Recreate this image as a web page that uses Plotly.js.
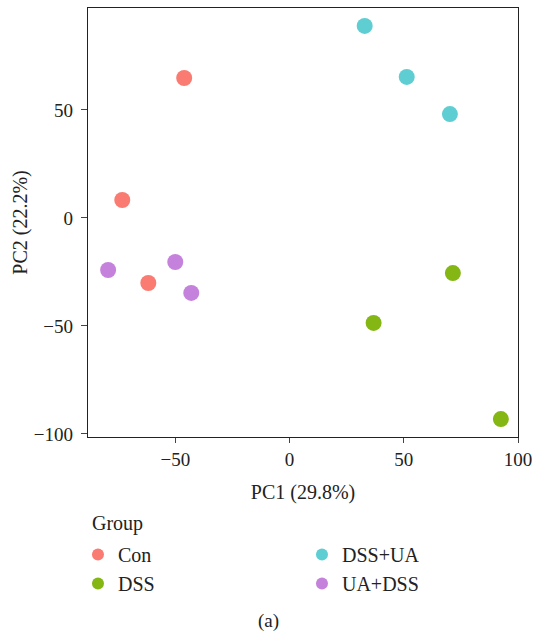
<!DOCTYPE html>
<html>
<head>
<meta charset="utf-8">
<script src="https://cdn.plot.ly/plotly-3.0.1.min.js"></script>
<style>html,body{margin:0;padding:0;background:#fff;}#chart{width:535px;height:637px;}</style>
</head>
<body>
<div id="chart"></div>
<script>
const groups = ["Con", "DSS+UA", "DSS", "UA+DSS"];
const colors = ["#F97B71", "#5FCED3", "#84B614", "#C582DC"];
const pc1 = {
  "Con": [-46.1, -73.2, -61.8],
  "DSS+UA": [32.9, 51.3, 70.2],
  "DSS": [71.5, 36.8, 92.5],
  "UA+DSS": [-79.4, -50.0, -43.0]
};
const pc2 = {
  "Con": [64.8, 8.3, -30.1],
  "DSS+UA": [88.9, 65.3, 48.1],
  "DSS": [-25.5, -48.6, -93.1],
  "UA+DSS": [-24.1, -20.4, -34.7]
};
const xTicks = [-50, 0, 50, 100];
const yTicks = [-100, -50, 0, 50];
const xTitle = "PC1 (29.8%)";
const yTitle = "PC2 (22.2%)";
const legendTitle = "Group";
const caption = "(a)";

const font = "Liberation Serif, Times New Roman, serif";
const ink = "#222";
const traces = groups.map((g, i) => ({
  type: "scatter", mode: "markers", name: g,
  x: pc1[g], y: pc2[g],
  marker: {color: colors[i], size: 16, line: {width: 0}}
}));

const minus = v => v < 0 ? "\u2212" + Math.abs(v) : String(v);

const layout = {
  width: 535, height: 637,
  margin: {l: 88, r: 17, t: 8, b: 200},
  paper_bgcolor: "#fff", plot_bgcolor: "#fff",
  font: {family: font, size: 19, color: ink},
  showlegend: true,
  xaxis: {
    range: [-88.2, 100], tickvals: xTicks, ticktext: xTicks.map(minus),
    showgrid: false, zeroline: false, showline: true, mirror: true,
    linecolor: ink, linewidth: 1.2, ticks: "outside", ticklen: 5, tickcolor: "#444",
    tickfont: {family: font, size: 19, color: ink},
    title: {text: xTitle, font: {family: font, size: 20, color: ink}, standoff: 16}
  },
  yaxis: {
    range: [-101.4, 97.2], tickvals: yTicks, ticktext: yTicks.map(minus),
    showgrid: false, zeroline: false, showline: true, mirror: true,
    linecolor: ink, linewidth: 1.2, ticks: "outside", ticklen: 6, tickcolor: "#444",
    ticklabelstandoff: 4,
    tickfont: {family: font, size: 19, color: ink},
    title: {text: yTitle, font: {family: font, size: 20, color: ink}, standoff: 0}
  },
  legend: {
    orientation: "h", x: -0.0233, xref: "paper", xanchor: "left",
    y: -0.2283, yanchor: "top",
    entrywidth: 179, entrywidthmode: "pixels",
    font: {family: font, size: 20, color: ink},
    itemsizing: "constant", tracegroupgap: 0
  },
  annotations: [{
    text: legendTitle, xref: "paper", yref: "paper", x: 0.0047, y: -0.2005,
    xanchor: "left", yanchor: "middle", showarrow: false,
    font: {family: font, size: 20, color: ink}
  }, {
    text: caption, xref: "paper", yref: "paper", x: 0.419, y: -0.429,
    xanchor: "center", yanchor: "middle", showarrow: false,
    font: {family: font, size: 19, color: ink}
  }]
};

Plotly.newPlot("chart", traces, layout, {displayModeBar: false, staticPlot: true});
</script>
</body>
</html>
